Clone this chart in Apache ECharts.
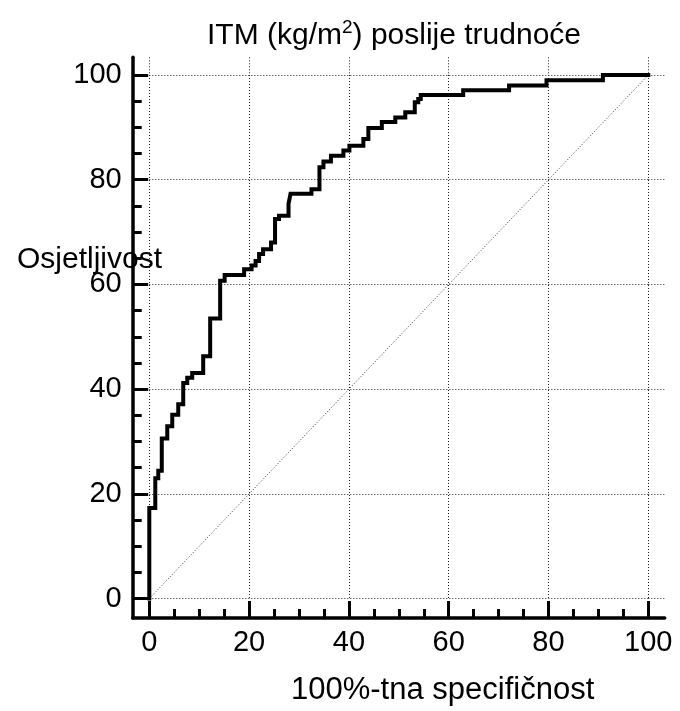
<!DOCTYPE html>
<html>
<head>
<meta charset="utf-8">
<script src="https://cdn.jsdelivr.net/npm/echarts@6/dist/echarts.min.js"></script>
<style>html,body{margin:0;padding:0;background:#fff;}#c{width:680px;height:711px;}</style>
</head>
<body>
<div id="c"></div>
<script>
// ROC curve vertices: x = 100 - specificity, y = sensitivity (%)
const fpr = [0,0,1.2,1.2,1.8,1.8,2.5,2.5,3.6,3.6,4.6,4.6,5.8,5.8,6.8,6.8,7.6,7.6,8.6,8.6,
  10.8,10.8,12.2,12.2,14.2,14.2,15.1,15.1,19,19,20.5,20.5,21.3,21.3,22,22,22.8,22.8,24.4,24.4,
  25.2,25.2,26,26,27.9,27.9,28.3,28.3,32.5,32.5,34.1,34.1,34.9,34.9,36.4,36.4,38.9,38.9,40.1,40.1,
  42.9,42.9,43.9,43.9,46.6,46.6,49.3,49.3,51.3,51.3,53.2,53.2,53.9,53.9,54.4,54.4,62.9,62.9,
  72.1,72.1,79.6,79.6,90.9,90.9,100];
const sens = [0,17.3,17.3,23,23,24.4,24.4,30.6,30.6,32.9,32.9,35.1,35.1,37.1,37.1,41.2,41.2,42.2,42.2,43.1,
  43.1,46.3,46.3,53.5,53.5,60.7,60.7,61.8,61.8,62.9,62.9,63.6,63.6,64.5,64.5,65.8,65.8,66.7,66.7,68,
  68,72.5,72.5,73.1,73.1,75.4,75.4,77.3,77.3,78.2,78.2,82.4,82.4,83.5,83.5,84.6,84.6,85.6,85.6,86.5,
  86.5,87.8,87.8,89.9,89.9,91,91,91.9,91.9,92.9,92.9,94.8,94.8,95.4,95.4,96.2,96.2,97.1,97.1,
  98,98,99,99,100,100];
// reference diagonal
const diagX = [0, 100];
const diagY = [0, 100];
// axis ticks
const tickMin = 0, tickMax = 100, tickStep = 20;
const titleText = 'ITM (kg/m{sup|2}) poslije trudnoće';
const xName = '100%-tna specifičnost';
const yName = 'Osjetljivost';

const FONT = 'Liberation Sans, Arial, sans-serif';
const rocData = fpr.map((v, i) => [v, sens[i]]);
const diagData = diagX.map((v, i) => [v, diagY[i]]);

const dotted = { show: true, lineStyle: { color: '#222', width: 1, type: [1, 2] } };
const none = { show: false };

const chart = echarts.init(document.getElementById('c'), null, { renderer: 'canvas' });
chart.setOption({
  backgroundColor: '#fff',
  animation: false,
  title: [
    { text: titleText, left: 202, top: 13,
      textStyle: { fontFamily: FONT, fontSize: 30, fontWeight: 'normal', color: '#000', lineHeight: 36,
        rich: { sup: { fontFamily: FONT, fontSize: 19, color: '#000', verticalAlign: 'top', lineHeight: 20 } } } },
    { text: yName, left: 12, top: 240,
      textStyle: { fontFamily: FONT, fontSize: 30, fontWeight: 'normal', color: '#000' } },
    { text: xName, left: 286, top: 670,
      textStyle: { fontFamily: FONT, fontSize: 31, fontWeight: 'normal', color: '#000' } }
  ],
  grid: [
    { left: 132.7, top: 57.3, width: 532, height: 560.7, outerBoundsMode: 'none', containLabel: false },
    { left: 149.3, top: 75, width: 499, height: 523.6, outerBoundsMode: 'none', containLabel: false },
    { left: 648.3, top: 75, width: 16.5, height: 523.6, outerBoundsMode: 'none', containLabel: false },
    { left: 149.3, top: 57.3, width: 499, height: 17.7, outerBoundsMode: 'none', containLabel: false }
  ],
  xAxis: [
    { gridIndex: 0, type: 'value', min: 0, max: 1, axisLine: { show: true, onZero: false, lineStyle: { color: '#000', width: 3.5 } },
      axisTick: none, axisLabel: none, splitLine: none },
    { gridIndex: 1, type: 'value', min: tickMin, max: tickMax, interval: tickStep, offset: 19.4,
      axisLine: { show: false, onZero: false },
      axisTick: { show: true, inside: true, length: 17, lineStyle: { color: '#000', width: 3 } },
      minorTick: { show: true, splitNumber: 4, length: 9, lineStyle: { color: '#000', width: 3 } },
      axisLabel: { show: true, margin: 10, fontFamily: FONT, fontSize: 29, color: '#000' },
      splitLine: dotted },
    { gridIndex: 2, type: 'value', min: 0, max: 1, show: false },
    { gridIndex: 3, type: 'value', min: tickMin, max: tickMax, interval: tickStep,
      axisLine: none, axisTick: none, axisLabel: none, splitLine: dotted }
  ],
  yAxis: [
    { gridIndex: 0, type: 'value', min: 0, max: 1, axisLine: { show: true, onZero: false, lineStyle: { color: '#000', width: 3.5 } },
      axisTick: none, axisLabel: none, splitLine: none },
    { gridIndex: 1, type: 'value', min: tickMin, max: tickMax, interval: tickStep, offset: 16.6,
      axisLine: { show: false, onZero: false },
      axisTick: { show: true, inside: true, length: 15.5, lineStyle: { color: '#000', width: 3 } },
      minorTick: { show: true, splitNumber: 4, length: 9, lineStyle: { color: '#000', width: 3 } },
      axisLabel: { show: true, margin: 11, fontFamily: FONT, fontSize: 29, color: '#000' },
      splitLine: dotted },
    { gridIndex: 2, type: 'value', min: tickMin, max: tickMax, interval: tickStep,
      axisLine: none, axisTick: none, axisLabel: none, splitLine: dotted },
    { gridIndex: 3, type: 'value', min: 0, max: 1, show: false }
  ],
  series: [
    { type: 'line', xAxisIndex: 1, yAxisIndex: 1, data: diagData, symbol: 'none', clip: false,
      lineStyle: { color: '#333', width: 1, type: [1, 2] }, silent: true },
    { type: 'line', xAxisIndex: 1, yAxisIndex: 1, data: rocData, symbol: 'none', clip: false,
      lineStyle: { color: '#000', width: 4, join: 'miter', cap: 'square' }, silent: true }
  ]
});
</script>
</body>
</html>
